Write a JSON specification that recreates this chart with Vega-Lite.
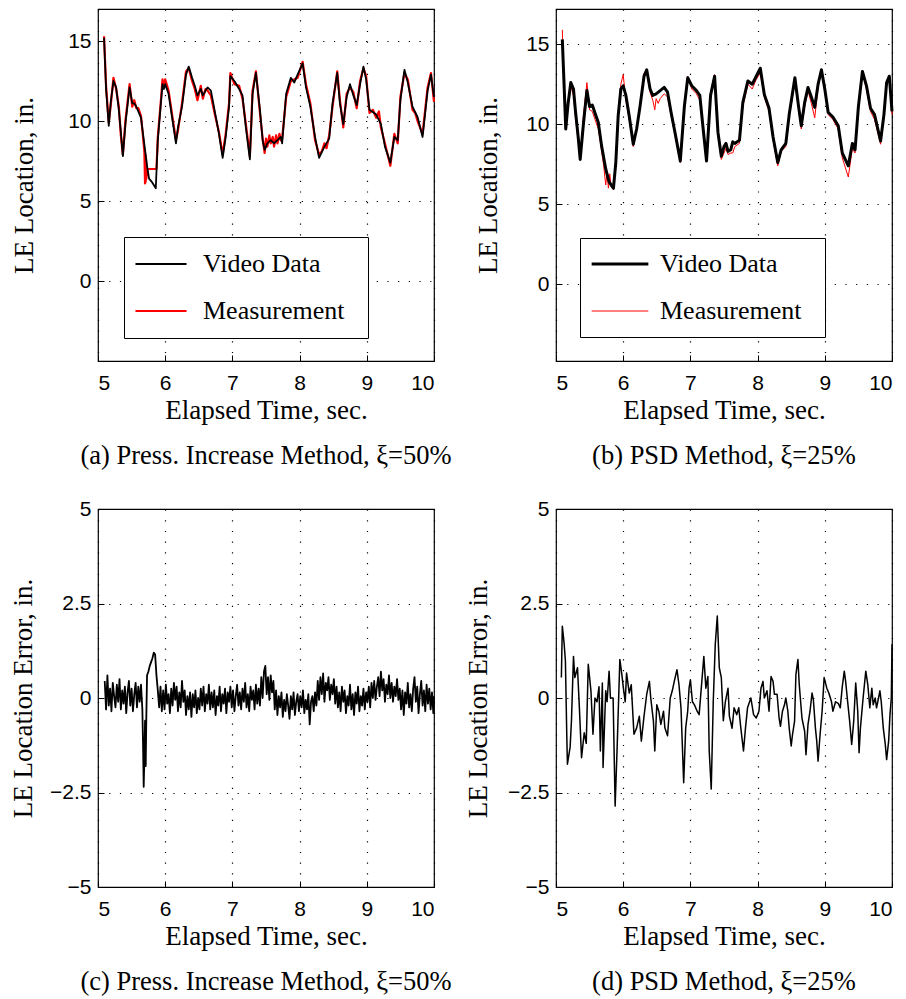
{
  "$schema": "https://vega.github.io/schema/vega-lite/v6.json",
  "background": "white",
  "padding": {"left": 8, "top": 8, "right": 5, "bottom": 5},
  "config": {
    "view": {"stroke": "black", "strokeWidth": 1.2},
    "axis": {
      "labelFont": "Liberation Sans", "labelFontSize": 21, "labelColor": "black",
      "titleFont": "Liberation Serif", "titleFontSize": 27, "titleFontWeight": "normal", "titleColor": "black",
      "domain": false, "ticks": true, "tickSize": -6, "tickColor": "black", "labelPadding": 13,
      "grid": true, "gridColor": "black", "gridOpacity": 1, "gridWidth": 1.2, "gridDash": [1.2, 9.5]
    },
    "axisX": {"titlePadding": 4, "labelPadding": 17},
    "title": {"orient": "bottom", "font": "Liberation Serif", "fontSize": 26.5, "fontWeight": "normal", "color": "black", "offset": 20, "anchor": "middle"},
    "legend": {
      "orient": "none", "title": null, "symbolType": "stroke", "labelFont": "Liberation Serif", "labelFontSize": 26,
      "labelColor": "black", "labelLimit": 0, "strokeColor": "black", "fillColor": "white", "padding": 4
    }
  },
  "resolve": {
    "scale": {"color": "independent", "strokeWidth": "independent"},
    "legend": {"color": "independent", "strokeWidth": "independent"}
  },
  "datasets": {
    "topA": [
      {"t": 5.09, "v": 15.3, "s": "Measurement"}, {"t": 5.12, "v": 12.2, "s": "Measurement"}, {"t": 5.16, "v": 9.9, "s": "Measurement"},
      {"t": 5.19, "v": 11.0, "s": "Measurement"}, {"t": 5.23, "v": 12.7, "s": "Measurement"}, {"t": 5.27, "v": 12.0, "s": "Measurement"},
      {"t": 5.31, "v": 10.9, "s": "Measurement"}, {"t": 5.34, "v": 9.1, "s": "Measurement"}, {"t": 5.37, "v": 7.9, "s": "Measurement"},
      {"t": 5.41, "v": 10.1, "s": "Measurement"}, {"t": 5.44, "v": 11.2, "s": "Measurement"}, {"t": 5.47, "v": 12.3, "s": "Measurement"},
      {"t": 5.51, "v": 10.9, "s": "Measurement"}, {"t": 5.54, "v": 11.3, "s": "Measurement"}, {"t": 5.57, "v": 10.8, "s": "Measurement"},
      {"t": 5.6, "v": 10.8, "s": "Measurement"}, {"t": 5.64, "v": 10.3, "s": "Measurement"}, {"t": 5.67, "v": 9.0, "s": "Measurement"},
      {"t": 5.69, "v": 8.1, "s": "Measurement"}, {"t": 5.7, "v": 6.1, "s": "Measurement"}, {"t": 5.705, "v": 7.9, "s": "Measurement"},
      {"t": 5.71, "v": 6.2, "s": "Measurement"}, {"t": 5.715, "v": 7.6, "s": "Measurement"}, {"t": 5.72, "v": 6.4, "s": "Measurement"},
      {"t": 5.725, "v": 7.2, "s": "Measurement"}, {"t": 5.73, "v": 6.6, "s": "Measurement"}, {"t": 5.735, "v": 7.0, "s": "Measurement"},
      {"t": 5.8, "v": 7.0, "s": "Measurement"}, {"t": 5.87, "v": 7.0, "s": "Measurement"}, {"t": 5.89, "v": 9.0, "s": "Measurement"},
      {"t": 5.94, "v": 11.5, "s": "Measurement"}, {"t": 5.96, "v": 12.6, "s": "Measurement"}, {"t": 5.98, "v": 12.1, "s": "Measurement"},
      {"t": 6.0, "v": 12.6, "s": "Measurement"}, {"t": 6.05, "v": 11.9, "s": "Measurement"}, {"t": 6.11, "v": 10.2, "s": "Measurement"},
      {"t": 6.16, "v": 8.8, "s": "Measurement"}, {"t": 6.19, "v": 9.4, "s": "Measurement"}, {"t": 6.25, "v": 11.1, "s": "Measurement"},
      {"t": 6.31, "v": 13.1, "s": "Measurement"}, {"t": 6.35, "v": 13.3, "s": "Measurement"}, {"t": 6.4, "v": 12.5, "s": "Measurement"},
      {"t": 6.44, "v": 12.0, "s": "Measurement"}, {"t": 6.48, "v": 11.3, "s": "Measurement"}, {"t": 6.53, "v": 12.2, "s": "Measurement"},
      {"t": 6.56, "v": 11.4, "s": "Measurement"}, {"t": 6.6, "v": 12.0, "s": "Measurement"}, {"t": 6.63, "v": 11.9, "s": "Measurement"},
      {"t": 6.68, "v": 11.6, "s": "Measurement"}, {"t": 6.745, "v": 10.3, "s": "Measurement"}, {"t": 6.8, "v": 9.3, "s": "Measurement"},
      {"t": 6.855, "v": 7.9, "s": "Measurement"}, {"t": 6.9, "v": 9.2, "s": "Measurement"}, {"t": 6.95, "v": 11.1, "s": "Measurement"},
      {"t": 6.97, "v": 13.0, "s": "Measurement"}, {"t": 7.03, "v": 12.3, "s": "Measurement"}, {"t": 7.1, "v": 12.2, "s": "Measurement"},
      {"t": 7.15, "v": 11.4, "s": "Measurement"}, {"t": 7.2, "v": 9.8, "s": "Measurement"}, {"t": 7.26, "v": 7.8, "s": "Measurement"},
      {"t": 7.3, "v": 11.9, "s": "Measurement"}, {"t": 7.35, "v": 13.1, "s": "Measurement"}, {"t": 7.41, "v": 10.5, "s": "Measurement"},
      {"t": 7.45, "v": 8.9, "s": "Measurement"}, {"t": 7.48, "v": 8.0, "s": "Measurement"}, {"t": 7.5, "v": 8.9, "s": "Measurement"},
      {"t": 7.52, "v": 8.4, "s": "Measurement"}, {"t": 7.55, "v": 9.1, "s": "Measurement"}, {"t": 7.57, "v": 8.6, "s": "Measurement"},
      {"t": 7.6, "v": 9.0, "s": "Measurement"}, {"t": 7.62, "v": 8.4, "s": "Measurement"}, {"t": 7.65, "v": 9.1, "s": "Measurement"},
      {"t": 7.67, "v": 8.6, "s": "Measurement"}, {"t": 7.7, "v": 9.2, "s": "Measurement"}, {"t": 7.72, "v": 8.8, "s": "Measurement"},
      {"t": 7.74, "v": 8.9, "s": "Measurement"}, {"t": 7.8, "v": 11.5, "s": "Measurement"}, {"t": 7.87, "v": 12.5, "s": "Measurement"},
      {"t": 7.92, "v": 12.6, "s": "Measurement"}, {"t": 7.97, "v": 12.7, "s": "Measurement"}, {"t": 8.045, "v": 13.7, "s": "Measurement"},
      {"t": 8.095, "v": 12.3, "s": "Measurement"}, {"t": 8.16, "v": 11.1, "s": "Measurement"}, {"t": 8.23, "v": 8.8, "s": "Measurement"},
      {"t": 8.29, "v": 7.9, "s": "Measurement"}, {"t": 8.33, "v": 8.1, "s": "Measurement"}, {"t": 8.37, "v": 8.6, "s": "Measurement"},
      {"t": 8.4, "v": 8.3, "s": "Measurement"}, {"t": 8.44, "v": 9.1, "s": "Measurement"}, {"t": 8.49, "v": 10.9, "s": "Measurement"},
      {"t": 8.56, "v": 13.1, "s": "Measurement"}, {"t": 8.6, "v": 11.3, "s": "Measurement"}, {"t": 8.65, "v": 9.6, "s": "Measurement"},
      {"t": 8.7, "v": 11.7, "s": "Measurement"}, {"t": 8.75, "v": 12.1, "s": "Measurement"}, {"t": 8.8, "v": 11.8, "s": "Measurement"},
      {"t": 8.85, "v": 10.8, "s": "Measurement"}, {"t": 8.9, "v": 12.5, "s": "Measurement"}, {"t": 8.95, "v": 13.3, "s": "Measurement"},
      {"t": 8.99, "v": 12.8, "s": "Measurement"}, {"t": 9.04, "v": 10.5, "s": "Measurement"}, {"t": 9.09, "v": 10.7, "s": "Measurement"},
      {"t": 9.14, "v": 10.2, "s": "Measurement"}, {"t": 9.18, "v": 10.6, "s": "Measurement"}, {"t": 9.21, "v": 9.6, "s": "Measurement"},
      {"t": 9.27, "v": 8.6, "s": "Measurement"}, {"t": 9.35, "v": 7.2, "s": "Measurement"}, {"t": 9.41, "v": 9.2, "s": "Measurement"},
      {"t": 9.46, "v": 8.6, "s": "Measurement"}, {"t": 9.5, "v": 11.5, "s": "Measurement"}, {"t": 9.56, "v": 13.0, "s": "Measurement"},
      {"t": 9.61, "v": 12.6, "s": "Measurement"}, {"t": 9.68, "v": 10.7, "s": "Measurement"}, {"t": 9.72, "v": 10.5, "s": "Measurement"},
      {"t": 9.755, "v": 10.0, "s": "Measurement"}, {"t": 9.83, "v": 9.2, "s": "Measurement"}, {"t": 9.905, "v": 12.1, "s": "Measurement"},
      {"t": 9.955, "v": 13.0, "s": "Measurement"}, {"t": 10.0, "v": 11.2, "s": "Measurement"},
      {"t": 5.09, "v": 15.2, "s": "Video Data"}, {"t": 5.12, "v": 12.0, "s": "Video Data"}, {"t": 5.16, "v": 9.7, "s": "Video Data"},
      {"t": 5.19, "v": 11.2, "s": "Video Data"}, {"t": 5.23, "v": 12.5, "s": "Video Data"}, {"t": 5.27, "v": 12.1, "s": "Video Data"},
      {"t": 5.31, "v": 10.7, "s": "Video Data"}, {"t": 5.34, "v": 9.3, "s": "Video Data"}, {"t": 5.37, "v": 7.8, "s": "Video Data"},
      {"t": 5.41, "v": 9.9, "s": "Video Data"}, {"t": 5.44, "v": 11.0, "s": "Video Data"}, {"t": 5.47, "v": 12.1, "s": "Video Data"},
      {"t": 5.51, "v": 11.1, "s": "Video Data"}, {"t": 5.54, "v": 11.1, "s": "Video Data"}, {"t": 5.57, "v": 10.9, "s": "Video Data"},
      {"t": 5.6, "v": 10.6, "s": "Video Data"}, {"t": 5.64, "v": 10.2, "s": "Video Data"}, {"t": 5.67, "v": 9.2, "s": "Video Data"},
      {"t": 5.7, "v": 8.2, "s": "Video Data"}, {"t": 5.73, "v": 7.2, "s": "Video Data"}, {"t": 5.76, "v": 6.4, "s": "Video Data"},
      {"t": 5.8, "v": 6.2, "s": "Video Data"}, {"t": 5.83, "v": 6.0, "s": "Video Data"}, {"t": 5.86, "v": 5.8, "s": "Video Data"},
      {"t": 5.89, "v": 8.8, "s": "Video Data"}, {"t": 5.94, "v": 11.3, "s": "Video Data"}, {"t": 5.96, "v": 12.3, "s": "Video Data"},
      {"t": 5.98, "v": 12.0, "s": "Video Data"}, {"t": 6.0, "v": 12.3, "s": "Video Data"}, {"t": 6.05, "v": 11.7, "s": "Video Data"},
      {"t": 6.11, "v": 10.0, "s": "Video Data"}, {"t": 6.16, "v": 8.6, "s": "Video Data"}, {"t": 6.19, "v": 9.6, "s": "Video Data"},
      {"t": 6.25, "v": 10.9, "s": "Video Data"}, {"t": 6.31, "v": 12.9, "s": "Video Data"}, {"t": 6.35, "v": 13.4, "s": "Video Data"},
      {"t": 6.4, "v": 12.7, "s": "Video Data"}, {"t": 6.44, "v": 12.2, "s": "Video Data"}, {"t": 6.48, "v": 11.6, "s": "Video Data"},
      {"t": 6.53, "v": 12.0, "s": "Video Data"}, {"t": 6.56, "v": 11.6, "s": "Video Data"}, {"t": 6.6, "v": 11.9, "s": "Video Data"},
      {"t": 6.63, "v": 12.1, "s": "Video Data"}, {"t": 6.68, "v": 11.9, "s": "Video Data"}, {"t": 6.745, "v": 10.45, "s": "Video Data"},
      {"t": 6.8, "v": 9.2, "s": "Video Data"}, {"t": 6.855, "v": 7.7, "s": "Video Data"}, {"t": 6.9, "v": 9.0, "s": "Video Data"},
      {"t": 6.95, "v": 10.9, "s": "Video Data"}, {"t": 6.97, "v": 12.8, "s": "Video Data"}, {"t": 7.03, "v": 12.5, "s": "Video Data"},
      {"t": 7.1, "v": 12.0, "s": "Video Data"}, {"t": 7.15, "v": 11.6, "s": "Video Data"}, {"t": 7.2, "v": 9.6, "s": "Video Data"},
      {"t": 7.26, "v": 7.6, "s": "Video Data"}, {"t": 7.3, "v": 11.7, "s": "Video Data"}, {"t": 7.35, "v": 13.0, "s": "Video Data"},
      {"t": 7.41, "v": 10.7, "s": "Video Data"}, {"t": 7.45, "v": 8.8, "s": "Video Data"}, {"t": 7.48, "v": 8.2, "s": "Video Data"},
      {"t": 7.52, "v": 8.6, "s": "Video Data"}, {"t": 7.57, "v": 8.8, "s": "Video Data"}, {"t": 7.62, "v": 8.6, "s": "Video Data"},
      {"t": 7.67, "v": 8.8, "s": "Video Data"}, {"t": 7.72, "v": 9.0, "s": "Video Data"}, {"t": 7.74, "v": 8.6, "s": "Video Data"},
      {"t": 7.8, "v": 11.7, "s": "Video Data"}, {"t": 7.87, "v": 12.7, "s": "Video Data"}, {"t": 7.92, "v": 12.4, "s": "Video Data"},
      {"t": 7.97, "v": 12.9, "s": "Video Data"}, {"t": 8.045, "v": 13.6, "s": "Video Data"}, {"t": 8.095, "v": 12.1, "s": "Video Data"},
      {"t": 8.16, "v": 10.9, "s": "Video Data"}, {"t": 8.23, "v": 9.0, "s": "Video Data"}, {"t": 8.29, "v": 7.7, "s": "Video Data"},
      {"t": 8.37, "v": 8.4, "s": "Video Data"}, {"t": 8.44, "v": 8.9, "s": "Video Data"}, {"t": 8.49, "v": 11.1, "s": "Video Data"},
      {"t": 8.56, "v": 13.0, "s": "Video Data"}, {"t": 8.6, "v": 11.1, "s": "Video Data"}, {"t": 8.65, "v": 9.8, "s": "Video Data"},
      {"t": 8.7, "v": 11.5, "s": "Video Data"}, {"t": 8.75, "v": 12.3, "s": "Video Data"}, {"t": 8.8, "v": 11.6, "s": "Video Data"},
      {"t": 8.85, "v": 11.0, "s": "Video Data"}, {"t": 8.9, "v": 12.3, "s": "Video Data"}, {"t": 8.95, "v": 13.4, "s": "Video Data"},
      {"t": 8.99, "v": 12.6, "s": "Video Data"}, {"t": 9.04, "v": 10.7, "s": "Video Data"}, {"t": 9.14, "v": 10.4, "s": "Video Data"},
      {"t": 9.21, "v": 9.8, "s": "Video Data"}, {"t": 9.27, "v": 8.4, "s": "Video Data"}, {"t": 9.35, "v": 7.4, "s": "Video Data"},
      {"t": 9.41, "v": 9.0, "s": "Video Data"}, {"t": 9.46, "v": 8.8, "s": "Video Data"}, {"t": 9.5, "v": 11.3, "s": "Video Data"},
      {"t": 9.56, "v": 13.2, "s": "Video Data"}, {"t": 9.61, "v": 12.4, "s": "Video Data"}, {"t": 9.68, "v": 10.9, "s": "Video Data"},
      {"t": 9.755, "v": 10.25, "s": "Video Data"}, {"t": 9.83, "v": 9.0, "s": "Video Data"}, {"t": 9.905, "v": 11.9, "s": "Video Data"},
      {"t": 9.955, "v": 12.9, "s": "Video Data"}, {"t": 10.0, "v": 11.5, "s": "Video Data"}
    ],
    "topB": [
      {"t": 5.094, "v": 15.9, "s": "Measurement"}, {"t": 5.12, "v": 12.0, "s": "Measurement"}, {"t": 5.145, "v": 9.9, "s": "Measurement"},
      {"t": 5.18, "v": 11.0, "s": "Measurement"}, {"t": 5.22, "v": 12.4, "s": "Measurement"}, {"t": 5.26, "v": 11.8, "s": "Measurement"},
      {"t": 5.29, "v": 10.4, "s": "Measurement"}, {"t": 5.33, "v": 9.0, "s": "Measurement"}, {"t": 5.36, "v": 7.9, "s": "Measurement"},
      {"t": 5.41, "v": 10.6, "s": "Measurement"}, {"t": 5.46, "v": 12.6, "s": "Measurement"}, {"t": 5.5, "v": 10.9, "s": "Measurement"},
      {"t": 5.54, "v": 10.8, "s": "Measurement"}, {"t": 5.58, "v": 10.3, "s": "Measurement"}, {"t": 5.63, "v": 9.7, "s": "Measurement"},
      {"t": 5.68, "v": 8.3, "s": "Measurement"}, {"t": 5.71, "v": 7.4, "s": "Measurement"}, {"t": 5.74, "v": 6.2, "s": "Measurement"},
      {"t": 5.76, "v": 7.0, "s": "Measurement"}, {"t": 5.78, "v": 6.0, "s": "Measurement"}, {"t": 5.8, "v": 6.9, "s": "Measurement"},
      {"t": 5.82, "v": 6.1, "s": "Measurement"}, {"t": 5.855, "v": 5.9, "s": "Measurement"}, {"t": 5.89, "v": 7.9, "s": "Measurement"},
      {"t": 5.925, "v": 10.8, "s": "Measurement"}, {"t": 5.965, "v": 12.5, "s": "Measurement"}, {"t": 6.0, "v": 13.1, "s": "Measurement"},
      {"t": 6.04, "v": 11.5, "s": "Measurement"}, {"t": 6.09, "v": 10.3, "s": "Measurement"}, {"t": 6.15, "v": 8.6, "s": "Measurement"},
      {"t": 6.2, "v": 9.6, "s": "Measurement"}, {"t": 6.25, "v": 11.3, "s": "Measurement"}, {"t": 6.31, "v": 13.2, "s": "Measurement"},
      {"t": 6.35, "v": 13.2, "s": "Measurement"}, {"t": 6.4, "v": 12.0, "s": "Measurement"}, {"t": 6.44, "v": 11.5, "s": "Measurement"},
      {"t": 6.47, "v": 10.9, "s": "Measurement"}, {"t": 6.49, "v": 11.6, "s": "Measurement"}, {"t": 6.52, "v": 11.3, "s": "Measurement"},
      {"t": 6.55, "v": 11.6, "s": "Measurement"}, {"t": 6.61, "v": 11.9, "s": "Measurement"}, {"t": 6.66, "v": 11.7, "s": "Measurement"},
      {"t": 6.71, "v": 10.6, "s": "Measurement"}, {"t": 6.77, "v": 9.3, "s": "Measurement"}, {"t": 6.85, "v": 7.6, "s": "Measurement"},
      {"t": 6.91, "v": 11.4, "s": "Measurement"}, {"t": 6.96, "v": 13.0, "s": "Measurement"}, {"t": 7.02, "v": 12.2, "s": "Measurement"},
      {"t": 7.09, "v": 11.9, "s": "Measurement"}, {"t": 7.14, "v": 11.5, "s": "Measurement"}, {"t": 7.19, "v": 9.5, "s": "Measurement"},
      {"t": 7.24, "v": 7.8, "s": "Measurement"}, {"t": 7.3, "v": 12.0, "s": "Measurement"}, {"t": 7.36, "v": 13.1, "s": "Measurement"},
      {"t": 7.41, "v": 9.3, "s": "Measurement"}, {"t": 7.46, "v": 7.8, "s": "Measurement"}, {"t": 7.5, "v": 8.2, "s": "Measurement"},
      {"t": 7.53, "v": 8.5, "s": "Measurement"}, {"t": 7.56, "v": 8.1, "s": "Measurement"}, {"t": 7.6, "v": 8.2, "s": "Measurement"},
      {"t": 7.63, "v": 8.2, "s": "Measurement"}, {"t": 7.66, "v": 8.6, "s": "Measurement"}, {"t": 7.73, "v": 8.8, "s": "Measurement"},
      {"t": 7.78, "v": 11.1, "s": "Measurement"}, {"t": 7.855, "v": 12.5, "s": "Measurement"}, {"t": 7.92, "v": 12.2, "s": "Measurement"},
      {"t": 7.98, "v": 12.8, "s": "Measurement"}, {"t": 8.04, "v": 13.2, "s": "Measurement"}, {"t": 8.1, "v": 11.7, "s": "Measurement"},
      {"t": 8.17, "v": 10.8, "s": "Measurement"}, {"t": 8.23, "v": 9.0, "s": "Measurement"}, {"t": 8.3, "v": 7.4, "s": "Measurement"},
      {"t": 8.35, "v": 8.3, "s": "Measurement"}, {"t": 8.42, "v": 8.6, "s": "Measurement"}, {"t": 8.47, "v": 10.4, "s": "Measurement"},
      {"t": 8.555, "v": 12.7, "s": "Measurement"}, {"t": 8.61, "v": 10.9, "s": "Measurement"}, {"t": 8.65, "v": 9.7, "s": "Measurement"},
      {"t": 8.7, "v": 11.1, "s": "Measurement"}, {"t": 8.75, "v": 12.1, "s": "Measurement"}, {"t": 8.8, "v": 11.3, "s": "Measurement"},
      {"t": 8.85, "v": 10.4, "s": "Measurement"}, {"t": 8.9, "v": 12.3, "s": "Measurement"}, {"t": 8.95, "v": 13.3, "s": "Measurement"},
      {"t": 9.0, "v": 12.0, "s": "Measurement"}, {"t": 9.05, "v": 10.6, "s": "Measurement"}, {"t": 9.12, "v": 10.3, "s": "Measurement"},
      {"t": 9.2, "v": 9.7, "s": "Measurement"}, {"t": 9.26, "v": 7.9, "s": "Measurement"}, {"t": 9.35, "v": 6.7, "s": "Measurement"},
      {"t": 9.41, "v": 8.5, "s": "Measurement"}, {"t": 9.45, "v": 8.2, "s": "Measurement"}, {"t": 9.5, "v": 10.9, "s": "Measurement"},
      {"t": 9.56, "v": 13.2, "s": "Measurement"}, {"t": 9.62, "v": 12.2, "s": "Measurement"}, {"t": 9.68, "v": 10.8, "s": "Measurement"},
      {"t": 9.74, "v": 10.3, "s": "Measurement"}, {"t": 9.83, "v": 8.75, "s": "Measurement"}, {"t": 9.88, "v": 10.4, "s": "Measurement"},
      {"t": 9.92, "v": 12.4, "s": "Measurement"}, {"t": 9.96, "v": 12.8, "s": "Measurement"}, {"t": 10.0, "v": 10.6, "s": "Measurement"},
      {"t": 5.094, "v": 15.3, "s": "Video Data"}, {"t": 5.12, "v": 12.5, "s": "Video Data"}, {"t": 5.145, "v": 9.7, "s": "Video Data"},
      {"t": 5.18, "v": 11.3, "s": "Video Data"}, {"t": 5.22, "v": 12.6, "s": "Video Data"}, {"t": 5.26, "v": 12.2, "s": "Video Data"},
      {"t": 5.29, "v": 10.8, "s": "Video Data"}, {"t": 5.33, "v": 9.2, "s": "Video Data"}, {"t": 5.36, "v": 7.8, "s": "Video Data"},
      {"t": 5.41, "v": 10.1, "s": "Video Data"}, {"t": 5.46, "v": 12.1, "s": "Video Data"}, {"t": 5.5, "v": 11.1, "s": "Video Data"},
      {"t": 5.54, "v": 11.2, "s": "Video Data"}, {"t": 5.58, "v": 10.7, "s": "Video Data"}, {"t": 5.63, "v": 10.1, "s": "Video Data"},
      {"t": 5.68, "v": 8.6, "s": "Video Data"}, {"t": 5.74, "v": 7.2, "s": "Video Data"}, {"t": 5.79, "v": 6.4, "s": "Video Data"},
      {"t": 5.855, "v": 6.0, "s": "Video Data"}, {"t": 5.89, "v": 7.6, "s": "Video Data"}, {"t": 5.925, "v": 10.5, "s": "Video Data"},
      {"t": 5.965, "v": 12.2, "s": "Video Data"}, {"t": 6.0, "v": 12.4, "s": "Video Data"}, {"t": 6.04, "v": 11.8, "s": "Video Data"},
      {"t": 6.09, "v": 10.5, "s": "Video Data"}, {"t": 6.15, "v": 8.75, "s": "Video Data"}, {"t": 6.2, "v": 9.7, "s": "Video Data"},
      {"t": 6.25, "v": 11.1, "s": "Video Data"}, {"t": 6.31, "v": 13.0, "s": "Video Data"}, {"t": 6.35, "v": 13.4, "s": "Video Data"},
      {"t": 6.4, "v": 12.2, "s": "Video Data"}, {"t": 6.44, "v": 11.8, "s": "Video Data"}, {"t": 6.49, "v": 11.9, "s": "Video Data"},
      {"t": 6.55, "v": 12.1, "s": "Video Data"}, {"t": 6.61, "v": 12.3, "s": "Video Data"}, {"t": 6.66, "v": 12.0, "s": "Video Data"},
      {"t": 6.71, "v": 10.8, "s": "Video Data"}, {"t": 6.77, "v": 9.5, "s": "Video Data"}, {"t": 6.85, "v": 7.7, "s": "Video Data"},
      {"t": 6.91, "v": 11.1, "s": "Video Data"}, {"t": 6.96, "v": 12.9, "s": "Video Data"}, {"t": 7.02, "v": 12.4, "s": "Video Data"},
      {"t": 7.09, "v": 12.1, "s": "Video Data"}, {"t": 7.14, "v": 11.8, "s": "Video Data"}, {"t": 7.19, "v": 9.7, "s": "Video Data"},
      {"t": 7.24, "v": 7.7, "s": "Video Data"}, {"t": 7.3, "v": 11.8, "s": "Video Data"}, {"t": 7.36, "v": 13.0, "s": "Video Data"},
      {"t": 7.41, "v": 9.5, "s": "Video Data"}, {"t": 7.46, "v": 8.0, "s": "Video Data"}, {"t": 7.5, "v": 8.6, "s": "Video Data"},
      {"t": 7.53, "v": 8.8, "s": "Video Data"}, {"t": 7.56, "v": 8.3, "s": "Video Data"}, {"t": 7.6, "v": 8.4, "s": "Video Data"},
      {"t": 7.63, "v": 8.9, "s": "Video Data"}, {"t": 7.66, "v": 8.8, "s": "Video Data"}, {"t": 7.73, "v": 9.0, "s": "Video Data"},
      {"t": 7.78, "v": 11.35, "s": "Video Data"}, {"t": 7.855, "v": 12.7, "s": "Video Data"}, {"t": 7.92, "v": 12.5, "s": "Video Data"},
      {"t": 7.98, "v": 13.0, "s": "Video Data"}, {"t": 8.04, "v": 13.5, "s": "Video Data"}, {"t": 8.1, "v": 11.85, "s": "Video Data"},
      {"t": 8.17, "v": 11.0, "s": "Video Data"}, {"t": 8.23, "v": 9.2, "s": "Video Data"}, {"t": 8.3, "v": 7.6, "s": "Video Data"},
      {"t": 8.35, "v": 8.4, "s": "Video Data"}, {"t": 8.42, "v": 8.8, "s": "Video Data"}, {"t": 8.47, "v": 10.6, "s": "Video Data"},
      {"t": 8.555, "v": 12.9, "s": "Video Data"}, {"t": 8.61, "v": 11.1, "s": "Video Data"}, {"t": 8.65, "v": 9.9, "s": "Video Data"},
      {"t": 8.7, "v": 11.35, "s": "Video Data"}, {"t": 8.75, "v": 12.3, "s": "Video Data"}, {"t": 8.8, "v": 11.7, "s": "Video Data"},
      {"t": 8.85, "v": 11.05, "s": "Video Data"}, {"t": 8.9, "v": 12.5, "s": "Video Data"}, {"t": 8.95, "v": 13.4, "s": "Video Data"},
      {"t": 9.0, "v": 12.2, "s": "Video Data"}, {"t": 9.05, "v": 10.75, "s": "Video Data"}, {"t": 9.12, "v": 10.45, "s": "Video Data"},
      {"t": 9.2, "v": 9.9, "s": "Video Data"}, {"t": 9.26, "v": 8.2, "s": "Video Data"}, {"t": 9.35, "v": 7.4, "s": "Video Data"},
      {"t": 9.41, "v": 8.8, "s": "Video Data"}, {"t": 9.45, "v": 8.4, "s": "Video Data"}, {"t": 9.5, "v": 11.1, "s": "Video Data"},
      {"t": 9.56, "v": 13.3, "s": "Video Data"}, {"t": 9.62, "v": 12.4, "s": "Video Data"}, {"t": 9.68, "v": 11.0, "s": "Video Data"},
      {"t": 9.74, "v": 10.6, "s": "Video Data"}, {"t": 9.83, "v": 8.95, "s": "Video Data"}, {"t": 9.88, "v": 10.6, "s": "Video Data"},
      {"t": 9.92, "v": 12.6, "s": "Video Data"}, {"t": 9.96, "v": 13.0, "s": "Video Data"}, {"t": 10.0, "v": 10.8, "s": "Video Data"}
    ],
    "errC": [
      {"t": 5.10, "e": 0.45}, {"t": 5.12, "e": -0.30}, {"t": 5.14, "e": 0.60}, {"t": 5.16, "e": -0.20}, {"t": 5.18, "e": 0.25},
      {"t": 5.20, "e": -0.35}, {"t": 5.22, "e": 0.40}, {"t": 5.24, "e": 0.05}, {"t": 5.26, "e": -0.25}, {"t": 5.28, "e": 0.35},
      {"t": 5.30, "e": -0.10}, {"t": 5.32, "e": 0.50}, {"t": 5.34, "e": -0.30}, {"t": 5.36, "e": 0.20}, {"t": 5.38, "e": -0.15},
      {"t": 5.40, "e": 0.30}, {"t": 5.42, "e": -0.40}, {"t": 5.44, "e": 0.15}, {"t": 5.46, "e": 0.45}, {"t": 5.48, "e": -0.20},
      {"t": 5.50, "e": 0.25}, {"t": 5.52, "e": -0.35}, {"t": 5.54, "e": 0.10}, {"t": 5.56, "e": 0.40}, {"t": 5.58, "e": -0.25},
      {"t": 5.60, "e": 0.30}, {"t": 5.62, "e": -0.10}, {"t": 5.64, "e": 0.35}, {"t": 5.66, "e": -0.30}, {"t": 5.67, "e": -1.20},
      {"t": 5.68, "e": -2.35}, {"t": 5.69, "e": -1.60}, {"t": 5.70, "e": -0.60}, {"t": 5.71, "e": -1.80}, {"t": 5.72, "e": -0.40},
      {"t": 5.73, "e": 0.60}, {"t": 5.75, "e": 0.70}, {"t": 5.77, "e": 0.85}, {"t": 5.79, "e": 0.95}, {"t": 5.81, "e": 1.05},
      {"t": 5.83, "e": 1.20}, {"t": 5.85, "e": 1.15}, {"t": 5.87, "e": 0.60}, {"t": 5.89, "e": 0.20}, {"t": 5.91, "e": -0.25},
      {"t": 5.93, "e": 0.30}, {"t": 5.95, "e": -0.35}, {"t": 5.97, "e": 0.20}, {"t": 5.99, "e": -0.30}, {"t": 6.01, "e": 0.35},
      {"t": 6.03, "e": -0.15}, {"t": 6.05, "e": 0.10}, {"t": 6.07, "e": -0.40}, {"t": 6.09, "e": 0.25}, {"t": 6.11, "e": -0.20},
      {"t": 6.13, "e": 0.40}, {"t": 6.15, "e": -0.05}, {"t": 6.17, "e": 0.30}, {"t": 6.19, "e": -0.35}, {"t": 6.21, "e": 0.15},
      {"t": 6.23, "e": -0.25}, {"t": 6.25, "e": 0.45}, {"t": 6.27, "e": -0.10}, {"t": 6.29, "e": 0.20}, {"t": 6.31, "e": -0.45},
      {"t": 6.33, "e": 0.05}, {"t": 6.35, "e": -0.30}, {"t": 6.37, "e": 0.15}, {"t": 6.39, "e": -0.50}, {"t": 6.41, "e": 0.10},
      {"t": 6.43, "e": -0.25}, {"t": 6.45, "e": 0.20}, {"t": 6.47, "e": -0.40}, {"t": 6.49, "e": 0.00}, {"t": 6.51, "e": -0.30},
      {"t": 6.53, "e": 0.25}, {"t": 6.55, "e": -0.20}, {"t": 6.57, "e": 0.30}, {"t": 6.59, "e": -0.35}, {"t": 6.61, "e": 0.10},
      {"t": 6.63, "e": -0.15}, {"t": 6.65, "e": 0.35}, {"t": 6.67, "e": -0.30}, {"t": 6.69, "e": 0.15}, {"t": 6.71, "e": -0.25},
      {"t": 6.73, "e": 0.20}, {"t": 6.75, "e": -0.45}, {"t": 6.77, "e": 0.05}, {"t": 6.79, "e": -0.20}, {"t": 6.81, "e": 0.30},
      {"t": 6.83, "e": -0.35}, {"t": 6.85, "e": 0.10}, {"t": 6.87, "e": -0.15}, {"t": 6.89, "e": 0.25}, {"t": 6.91, "e": -0.40},
      {"t": 6.93, "e": 0.15}, {"t": 6.95, "e": -0.10}, {"t": 6.97, "e": 0.30}, {"t": 6.99, "e": -0.25}, {"t": 7.01, "e": 0.20},
      {"t": 7.03, "e": -0.35}, {"t": 7.05, "e": 0.05}, {"t": 7.07, "e": 0.35}, {"t": 7.09, "e": -0.20}, {"t": 7.11, "e": 0.15},
      {"t": 7.13, "e": -0.30}, {"t": 7.15, "e": 0.25}, {"t": 7.17, "e": -0.10}, {"t": 7.19, "e": 0.40}, {"t": 7.21, "e": -0.25},
      {"t": 7.23, "e": 0.10}, {"t": 7.25, "e": -0.35}, {"t": 7.27, "e": 0.30}, {"t": 7.29, "e": -0.05}, {"t": 7.31, "e": 0.20},
      {"t": 7.33, "e": -0.30}, {"t": 7.35, "e": 0.35}, {"t": 7.37, "e": -0.15}, {"t": 7.39, "e": 0.25}, {"t": 7.41, "e": -0.20},
      {"t": 7.43, "e": 0.55}, {"t": 7.45, "e": 0.00}, {"t": 7.47, "e": 0.70}, {"t": 7.49, "e": 0.85}, {"t": 7.51, "e": 0.10},
      {"t": 7.53, "e": 0.55}, {"t": 7.55, "e": -0.05}, {"t": 7.57, "e": 0.60}, {"t": 7.59, "e": 0.15}, {"t": 7.61, "e": 0.45},
      {"t": 7.63, "e": -0.30}, {"t": 7.65, "e": 0.20}, {"t": 7.67, "e": -0.45}, {"t": 7.69, "e": 0.05}, {"t": 7.71, "e": -0.25},
      {"t": 7.73, "e": 0.15}, {"t": 7.75, "e": -0.50}, {"t": 7.77, "e": -0.05}, {"t": 7.79, "e": -0.35}, {"t": 7.81, "e": 0.10},
      {"t": 7.83, "e": -0.20}, {"t": 7.85, "e": -0.55}, {"t": 7.87, "e": 0.05}, {"t": 7.89, "e": -0.30}, {"t": 7.91, "e": 0.15},
      {"t": 7.93, "e": -0.45}, {"t": 7.95, "e": -0.10}, {"t": 7.97, "e": 0.10}, {"t": 7.99, "e": -0.35}, {"t": 8.01, "e": 0.05},
      {"t": 8.03, "e": -0.25}, {"t": 8.05, "e": 0.20}, {"t": 8.07, "e": -0.40}, {"t": 8.09, "e": -0.05}, {"t": 8.11, "e": -0.30},
      {"t": 8.13, "e": 0.10}, {"t": 8.15, "e": -0.70}, {"t": 8.17, "e": -0.10}, {"t": 8.19, "e": 0.05}, {"t": 8.21, "e": -0.35},
      {"t": 8.23, "e": 0.15}, {"t": 8.25, "e": -0.20}, {"t": 8.27, "e": 0.45}, {"t": 8.29, "e": -0.05}, {"t": 8.31, "e": 0.55},
      {"t": 8.33, "e": 0.10}, {"t": 8.35, "e": 0.65}, {"t": 8.37, "e": -0.10}, {"t": 8.39, "e": 0.40}, {"t": 8.41, "e": 0.20},
      {"t": 8.43, "e": 0.55}, {"t": 8.45, "e": -0.05}, {"t": 8.47, "e": 0.35}, {"t": 8.49, "e": 0.10}, {"t": 8.51, "e": 0.50},
      {"t": 8.53, "e": -0.15}, {"t": 8.55, "e": 0.30}, {"t": 8.57, "e": -0.25}, {"t": 8.59, "e": 0.15}, {"t": 8.61, "e": -0.35},
      {"t": 8.63, "e": 0.30}, {"t": 8.65, "e": -0.10}, {"t": 8.67, "e": 0.20}, {"t": 8.69, "e": -0.40}, {"t": 8.71, "e": 0.05},
      {"t": 8.73, "e": -0.20}, {"t": 8.75, "e": 0.35}, {"t": 8.77, "e": -0.30}, {"t": 8.79, "e": 0.10}, {"t": 8.81, "e": -0.45},
      {"t": 8.83, "e": 0.15}, {"t": 8.85, "e": -0.15}, {"t": 8.87, "e": 0.30}, {"t": 8.89, "e": -0.35}, {"t": 8.91, "e": 0.05},
      {"t": 8.93, "e": -0.20}, {"t": 8.95, "e": 0.25}, {"t": 8.97, "e": -0.30}, {"t": 8.99, "e": 0.15}, {"t": 9.01, "e": -0.10},
      {"t": 9.03, "e": 0.30}, {"t": 9.05, "e": -0.25}, {"t": 9.07, "e": 0.40}, {"t": 9.09, "e": 0.00}, {"t": 9.11, "e": 0.45},
      {"t": 9.13, "e": -0.05}, {"t": 9.15, "e": 0.30}, {"t": 9.17, "e": 0.55}, {"t": 9.19, "e": 0.05}, {"t": 9.21, "e": 0.70},
      {"t": 9.23, "e": 0.20}, {"t": 9.25, "e": 0.50}, {"t": 9.27, "e": -0.10}, {"t": 9.29, "e": 0.35}, {"t": 9.31, "e": 0.10},
      {"t": 9.33, "e": 0.60}, {"t": 9.35, "e": 0.00}, {"t": 9.37, "e": 0.40}, {"t": 9.39, "e": -0.10}, {"t": 9.41, "e": 0.30},
      {"t": 9.43, "e": 0.05}, {"t": 9.45, "e": 0.50}, {"t": 9.47, "e": -0.05}, {"t": 9.49, "e": 0.25}, {"t": 9.51, "e": -0.30},
      {"t": 9.53, "e": 0.20}, {"t": 9.55, "e": -0.45}, {"t": 9.57, "e": 0.15}, {"t": 9.59, "e": -0.15}, {"t": 9.61, "e": 0.40},
      {"t": 9.63, "e": -0.25}, {"t": 9.65, "e": 0.10}, {"t": 9.67, "e": -0.35}, {"t": 9.69, "e": 0.25}, {"t": 9.71, "e": 0.55},
      {"t": 9.73, "e": -0.10}, {"t": 9.75, "e": 0.30}, {"t": 9.77, "e": -0.40}, {"t": 9.79, "e": 0.10}, {"t": 9.81, "e": 0.45},
      {"t": 9.83, "e": -0.20}, {"t": 9.85, "e": 0.20}, {"t": 9.87, "e": -0.35}, {"t": 9.89, "e": 0.35}, {"t": 9.91, "e": -0.15},
      {"t": 9.93, "e": 0.25}, {"t": 9.95, "e": -0.30}, {"t": 9.97, "e": 0.15}, {"t": 9.99, "e": -0.40}, {"t": 10.0, "e": 0.05}
    ],
    "errD": [
      {"t": 5.08, "e": 0.54}, {"t": 5.094, "e": 1.9}, {"t": 5.12, "e": 1.46}, {"t": 5.14, "e": 0.98}, {"t": 5.16, "e": -0.96},
      {"t": 5.17, "e": -1.75}, {"t": 5.21, "e": -1.3}, {"t": 5.23, "e": -0.6}, {"t": 5.26, "e": 1.1}, {"t": 5.28, "e": 0.54},
      {"t": 5.32, "e": 0.8}, {"t": 5.35, "e": -0.34}, {"t": 5.38, "e": -1.58}, {"t": 5.42, "e": -0.92}, {"t": 5.45, "e": -1.2},
      {"t": 5.48, "e": 0.89}, {"t": 5.52, "e": 0.19}, {"t": 5.55, "e": -0.96}, {"t": 5.58, "e": 0.0}, {"t": 5.61, "e": -0.1},
      {"t": 5.64, "e": 0.3}, {"t": 5.66, "e": -1.4}, {"t": 5.69, "e": 0.4}, {"t": 5.7, "e": -1.84}, {"t": 5.74, "e": 0.19},
      {"t": 5.76, "e": -0.1}, {"t": 5.79, "e": 0.71}, {"t": 5.81, "e": 0.0}, {"t": 5.85, "e": 0.0}, {"t": 5.88, "e": -2.86},
      {"t": 5.91, "e": -1.3}, {"t": 5.95, "e": 1.02}, {"t": 5.98, "e": 0.62}, {"t": 6.0, "e": 0.3}, {"t": 6.03, "e": -0.1},
      {"t": 6.05, "e": 0.66}, {"t": 6.09, "e": 0.13}, {"t": 6.12, "e": 0.35}, {"t": 6.16, "e": -0.96}, {"t": 6.2, "e": -0.79},
      {"t": 6.24, "e": -0.48}, {"t": 6.27, "e": -1.14}, {"t": 6.31, "e": -0.48}, {"t": 6.35, "e": 0.1}, {"t": 6.39, "e": 0.44},
      {"t": 6.41, "e": 0.0}, {"t": 6.45, "e": -0.62}, {"t": 6.47, "e": -1.4}, {"t": 6.5, "e": -0.18}, {"t": 6.53, "e": -0.35},
      {"t": 6.56, "e": -0.7}, {"t": 6.6, "e": -0.35}, {"t": 6.62, "e": -0.79}, {"t": 6.66, "e": -1.0}, {"t": 6.7, "e": 0.0},
      {"t": 6.73, "e": 0.19}, {"t": 6.76, "e": 0.44}, {"t": 6.8, "e": 0.75}, {"t": 6.83, "e": 0.35}, {"t": 6.86, "e": -0.26},
      {"t": 6.9, "e": -2.24}, {"t": 6.93, "e": -0.79}, {"t": 6.96, "e": -0.35}, {"t": 6.98, "e": 0.26}, {"t": 7.0, "e": 0.48},
      {"t": 7.03, "e": -0.1}, {"t": 7.06, "e": -0.18}, {"t": 7.1, "e": -0.35}, {"t": 7.13, "e": -0.44}, {"t": 7.17, "e": 0.44},
      {"t": 7.2, "e": 1.1}, {"t": 7.23, "e": 0.26}, {"t": 7.26, "e": 0.57}, {"t": 7.28, "e": -1.4}, {"t": 7.31, "e": -2.41},
      {"t": 7.34, "e": -0.1}, {"t": 7.37, "e": 1.42}, {"t": 7.4, "e": 2.17}, {"t": 7.43, "e": 0.8}, {"t": 7.46, "e": 0.54},
      {"t": 7.49, "e": -0.6}, {"t": 7.52, "e": -0.1}, {"t": 7.56, "e": 0.26}, {"t": 7.58, "e": -0.48}, {"t": 7.62, "e": -0.8},
      {"t": 7.65, "e": -0.26}, {"t": 7.69, "e": -0.44}, {"t": 7.72, "e": -0.26}, {"t": 7.75, "e": -0.79}, {"t": 7.79, "e": -1.4},
      {"t": 7.82, "e": -0.79}, {"t": 7.85, "e": -0.26}, {"t": 7.9, "e": 0.0}, {"t": 7.94, "e": -0.44}, {"t": 7.98, "e": -0.53},
      {"t": 8.02, "e": -0.35}, {"t": 8.05, "e": 0.26}, {"t": 8.08, "e": 0.44}, {"t": 8.1, "e": 0.0}, {"t": 8.14, "e": 0.19},
      {"t": 8.17, "e": -0.35}, {"t": 8.2, "e": 0.57}, {"t": 8.23, "e": 0.44}, {"t": 8.25, "e": 0.1}, {"t": 8.29, "e": 0.1},
      {"t": 8.32, "e": -0.53}, {"t": 8.34, "e": -0.75}, {"t": 8.37, "e": -0.35}, {"t": 8.4, "e": -0.18}, {"t": 8.42, "e": 0.0},
      {"t": 8.45, "e": -0.35}, {"t": 8.47, "e": -0.79}, {"t": 8.5, "e": -1.27}, {"t": 8.52, "e": -0.96}, {"t": 8.55, "e": -0.62},
      {"t": 8.57, "e": 0.62}, {"t": 8.6, "e": 1.02}, {"t": 8.62, "e": 0.35}, {"t": 8.66, "e": -0.53}, {"t": 8.7, "e": -0.88},
      {"t": 8.72, "e": -1.5}, {"t": 8.75, "e": -0.7}, {"t": 8.78, "e": -0.35}, {"t": 8.81, "e": 0.13}, {"t": 8.83, "e": -0.05},
      {"t": 8.86, "e": -0.79}, {"t": 8.88, "e": -1.14}, {"t": 8.9, "e": -1.67}, {"t": 8.93, "e": -0.96}, {"t": 8.96, "e": -0.35},
      {"t": 8.99, "e": 0.54}, {"t": 9.03, "e": 0.26}, {"t": 9.06, "e": 0.13}, {"t": 9.1, "e": -0.1}, {"t": 9.12, "e": -0.35},
      {"t": 9.16, "e": -0.1}, {"t": 9.2, "e": -0.14}, {"t": 9.23, "e": -0.26}, {"t": 9.26, "e": 0.3}, {"t": 9.29, "e": 0.71},
      {"t": 9.31, "e": 0.44}, {"t": 9.34, "e": -0.1}, {"t": 9.37, "e": -0.62}, {"t": 9.4, "e": -1.23}, {"t": 9.43, "e": -0.62},
      {"t": 9.46, "e": 0.4}, {"t": 9.49, "e": -0.35}, {"t": 9.51, "e": -1.45}, {"t": 9.53, "e": -0.79}, {"t": 9.57, "e": 0.0},
      {"t": 9.61, "e": 0.71}, {"t": 9.64, "e": 0.35}, {"t": 9.67, "e": -0.26}, {"t": 9.7, "e": 0.26}, {"t": 9.72, "e": -0.18},
      {"t": 9.75, "e": 0.0}, {"t": 9.77, "e": -0.26}, {"t": 9.8, "e": 0.0}, {"t": 9.82, "e": 0.19}, {"t": 9.84, "e": -0.1},
      {"t": 9.87, "e": -0.79}, {"t": 9.9, "e": -1.23}, {"t": 9.92, "e": -1.63}, {"t": 9.95, "e": -1.14}, {"t": 9.97, "e": -0.44},
      {"t": 9.99, "e": 0.0}, {"t": 10.0, "e": 1.42}
    ]
  },
  "columns": 2,
  "bounds": "flush",
  "spacing": {"row": 148, "column": 122},
  "concat": [
    {
      "width": 336, "height": 352,
      "data": {"name": "topA"},
      "title": "(a) Press. Increase Method, ξ=50%",
      "mark": {"type": "line", "strokeJoin": "round"},
      "encoding": {
        "x": {"field": "t", "type": "quantitative", "scale": {"domain": [5, 10], "nice": false, "zero": false},
              "axis": {"values": [5, 6, 7, 8, 9, 10], "format": "d", "title": "Elapsed Time, sec."}},
        "y": {"field": "v", "type": "quantitative", "scale": {"domain": [-5, 17], "nice": false, "zero": false},
              "axis": {"values": [0, 5, 10, 15], "format": "d", "title": "LE Location, in.", "titlePadding": 29}},
        "color": {"field": "s", "type": "nominal", "scale": {"domain": ["Video Data", "Measurement"], "range": ["black", "#ff0000"]},
                  "legend": {"legendX": 26, "legendY": 228, "symbolSize": 2612, "symbolStrokeWidth": 1, "symbolOffset": 6, "labelOffset": 15,
                             "clipHeight": 46, "rowPadding": 1, "labelExpr": "datum.label + '\u2800'"}},
        "strokeWidth": {"field": "s", "type": "ordinal", "scale": {"domain": ["Video Data", "Measurement"], "range": [1.8, 2.2]}, "legend": null}
      }
    },
    {
      "width": 336, "height": 352,
      "data": {"name": "topB"},
      "title": "(b) PSD Method, ξ=25%",
      "mark": {"type": "line", "strokeJoin": "round"},
      "encoding": {
        "x": {"field": "t", "type": "quantitative", "scale": {"domain": [5, 10], "nice": false, "zero": false},
              "axis": {"values": [5, 6, 7, 8, 9, 10], "format": "d", "title": "Elapsed Time, sec."}},
        "y": {"field": "v", "type": "quantitative", "scale": {"domain": [-4.8, 17.2], "nice": false, "zero": false},
              "axis": {"values": [0, 5, 10, 15], "format": "d", "title": "LE Location, in.", "titlePadding": 23}},
        "color": {"field": "s", "type": "nominal", "scale": {"domain": ["Video Data", "Measurement"], "range": ["black", "#ff0000"]},
                  "legend": {"legendX": 24, "legendY": 229, "symbolSize": 3215, "symbolOffset": 6, "labelOffset": 10,
                             "clipHeight": 44, "rowPadding": 3, "labelExpr": "datum.label + '\u2800'",
                             "encode": {"symbols": {"update": {"strokeWidth": {"signal": "datum.value === 'Video Data' ? 3 : 1"}}}}}},
        "strokeWidth": {"field": "s", "type": "ordinal", "scale": {"domain": ["Video Data", "Measurement"], "range": [3, 1]}, "legend": null}
      }
    },
    {
      "width": 336, "height": 378,
      "data": {"name": "errC"},
      "title": "(c) Press. Increase Method, ξ=50%",
      "mark": {"type": "line", "color": "black", "strokeWidth": 1.8, "strokeJoin": "round"},
      "encoding": {
        "x": {"field": "t", "type": "quantitative", "scale": {"domain": [5, 10], "nice": false, "zero": false},
              "axis": {"values": [5, 6, 7, 8, 9, 10], "format": "d", "title": "Elapsed Time, sec."}},
        "y": {"field": "e", "type": "quantitative", "scale": {"domain": [-5, 5], "nice": false, "zero": false},
              "axis": {"values": [-5, -2.5, 0, 2.5, 5], "format": ".2~f", "title": "LE Location Error, in.", "titlePadding": 12}}
      }
    },
    {
      "width": 336, "height": 378,
      "data": {"name": "errD"},
      "title": "(d) PSD Method, ξ=25%",
      "mark": {"type": "line", "color": "black", "strokeWidth": 1.5, "strokeJoin": "round"},
      "encoding": {
        "x": {"field": "t", "type": "quantitative", "scale": {"domain": [5, 10], "nice": false, "zero": false},
              "axis": {"values": [5, 6, 7, 8, 9, 10], "format": "d", "title": "Elapsed Time, sec."}},
        "y": {"field": "e", "type": "quantitative", "scale": {"domain": [-5, 5], "nice": false, "zero": false},
              "axis": {"values": [-5, -2.5, 0, 2.5, 5], "format": ".2~f", "title": "LE Location Error, in.", "titlePadding": 15}}
      }
    }
  ]
}
